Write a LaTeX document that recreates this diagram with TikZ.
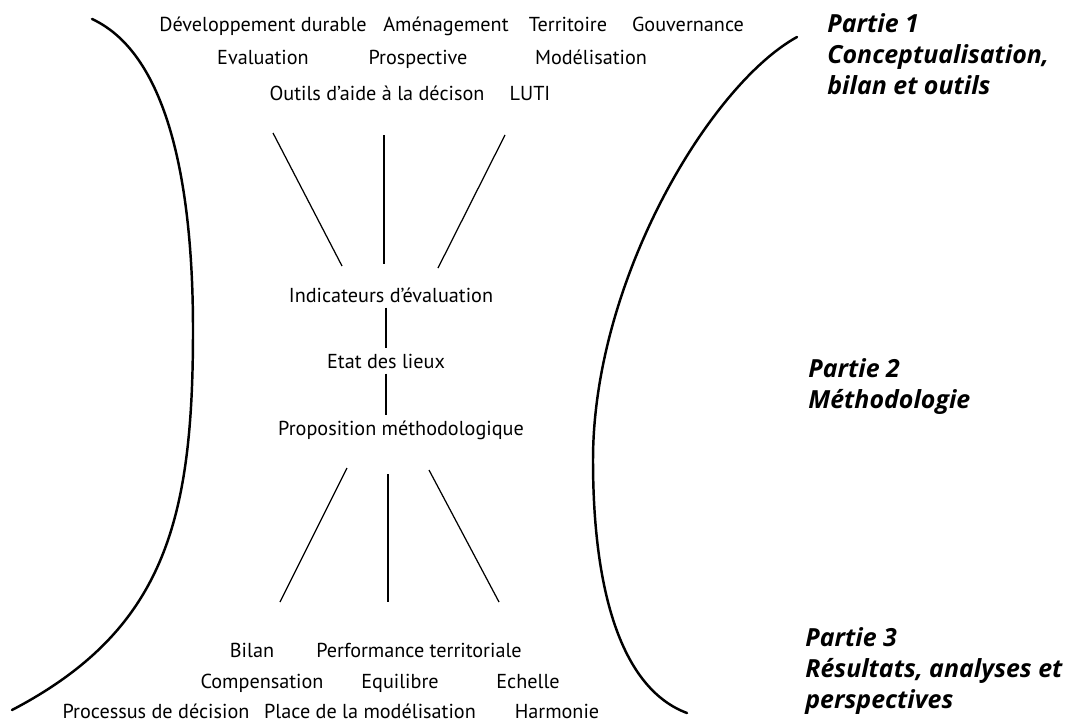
\documentclass[tikz,border=0pt]{standalone}
\usepackage{fontspec}
\setmainfont{PT Sans}
\newfontfamily\partfont{Open Sans}
\usetikzlibrary{positioning}

\tikzset{
  word/.style={anchor=base, inner sep=0.1cm, font=\fontsize{11.5}{13}\selectfont},
  partie/.style={anchor=north west, inner sep=0pt, align=left,
    font=\partfont\fontsize{14.2}{17.6}\selectfont\bfseries\itshape},
  link/.style={line width=0.7pt},
  bracket/.style={line width=1.4pt, line cap=round},
}

\begin{document}
\begin{tikzpicture}[x=0.02cm, y=-0.02cm]
\useasboundingbox (0,0) rectangle (1070,727);

% mots du haut
\node[word] (dev) at (263,31) {Développement durable};
\node[word] (amen) at (446,31) {Aménagement};
\node[word] (terr) at (568,31) {Territoire};
\node[word] (gouv) at (688,31) {Gouvernance};
\node[word] (eval) at (263,64) {Evaluation};
\node[word] (prosp) at (418,64) {Prospective};
\node[word] (model) at (591,64) {Modélisation};
\node[word] (outils) at (377,100) {Outils d'aide à la décison};
\node[word] (luti) at (530,100) {LUTI};

% colonne du milieu
\node[word] (ind) at (391,302) {Indicateurs d'évaluation};
\node[word] (etat) at (386,368) {Etat des lieux};
\node[word] (prop) at (401,435) {Proposition méthodologique};

\draw[link] (ind.south -| etat.north) -- (etat.north);
\draw[link] (etat.south) -- (etat.south |- prop.north);

% mots du bas
\node[word] (bilan) at (252,657) {Bilan};
\node[word] (perf) at (419,657) {Performance territoriale};
\node[word] (comp) at (262,688) {Compensation};
\node[word] (equi) at (400,688) {Equilibre};
\node[word] (ech) at (528,688) {Echelle};
\node[word] (proc) at (156,718) {Processus de décision};
\node[word] (place) at (370,718) {Place de la modélisation};
\node[word] (harm) at (557,718) {Harmonie};

% faisceaux
\coordinate (ha) at (273,133);
\coordinate (hb) at (342,266);
\coordinate (hc) at (384,135);
\coordinate (hd) at (384,264);
\coordinate (he) at (505,135);
\coordinate (hf) at (438,268);
\draw[link] (ha) -- (hb);
\draw[link] (hc) -- (hd);
\draw[link] (he) -- (hf);

\coordinate (ba) at (347,468);
\coordinate (bb) at (280,602);
\coordinate (bc) at (388,474);
\coordinate (bd) at (388,602);
\coordinate (be) at (429,470);
\coordinate (bf) at (499,602);
\draw[link] (ba) -- (bb);
\draw[link] (bc) -- (bd);
\draw[link] (be) -- (bf);

% parenthèses
\draw[bracket] (92,19) .. controls (170,55) and (193,190) .. (193,330)
  .. controls (193,520) and (165,630) .. (12,710);
\draw[bracket] (797,37) .. controls (710,85) and (593,280) .. (593,460)
  .. controls (593,600) and (625,690) .. (687,713);

% parties
\node[partie] (p1) at (827,13) {Partie 1\\Conceptualisation,\\bilan et outils};
\node[partie] (p2) at (808,358) {Partie 2\\Méthodologie};
\node[partie] (p3) at (805,627) {Partie 3\\Résultats, analyses et\\perspectives};

\end{tikzpicture}
\end{document}
